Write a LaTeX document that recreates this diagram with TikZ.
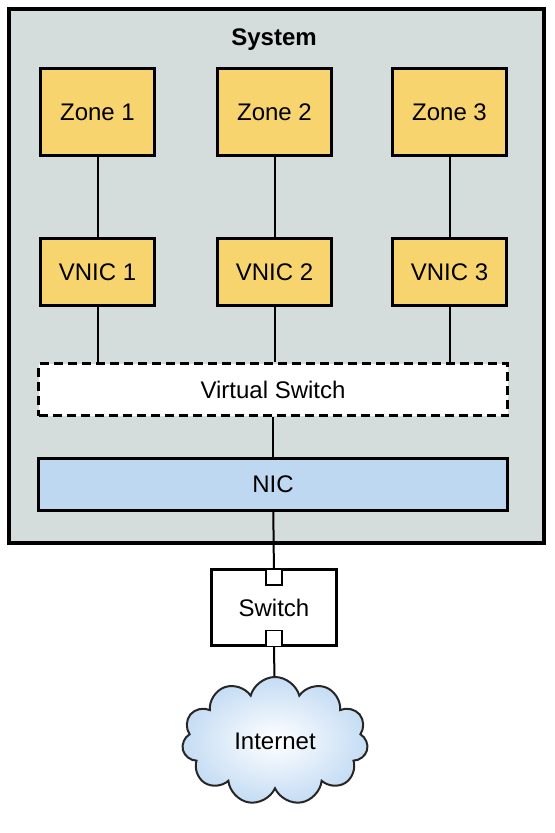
\documentclass[tikz,border=0pt]{standalone}
\usepackage{fontspec}
\setmainfont{Liberation Sans}
\usetikzlibrary{positioning,shapes.symbols}
\definecolor{sysgray}{RGB}{212,220,220}
\definecolor{zoneyellow}{RGB}{247,212,110}
\definecolor{nicblue}{RGB}{190,216,242}
\definecolor{cloudblue}{RGB}{196,220,244}

\begin{document}
\begin{tikzpicture}[
		x=0.5pt,y=-0.5pt,
		every node/.append style={
			font=\fontsize{12}{14}\selectfont,
			inner sep=0pt,
		},
		box/.style={draw=black,line width=1.5pt,minimum width=57pt},
		zonebox/.style={box,fill=zoneyellow,minimum height=43.5pt},
		vnicbox/.style={box,fill=zoneyellow,minimum height=33.5pt},
		widebox/.style={box,minimum width=234.5pt,minimum height=26pt},
		port/.style={draw=black,line width=0.8pt,fill=white,minimum size=8pt},
		wire/.style={line width=1pt},
	]
	\useasboundingbox (0,0) rectangle (554,833);
	% the system frame
	\node[draw=black,line width=2.4pt,fill=sysgray,minimum width=267.5pt,minimum height=267pt] (system) at (276.5,276) {};
	\node[font=\bfseries\fontsize{12}{14}\selectfont] (systitle) at (274,40) {System};
	% zones and their vnics
	\node[zonebox] (zone1) at (97.5,112.5) {Zone 1};
	\node[zonebox] (zone2) [right=30pt of zone1] {Zone 2};
	\node[zonebox] (zone3) [right=29pt of zone2] {Zone 3};
	\node[vnicbox] (vnic1) [below=40pt of zone1] {VNIC 1};
	\node[vnicbox] (vnic2) [below=40pt of zone2] {VNIC 2};
	\node[vnicbox] (vnic3) [below=40pt of zone3] {VNIC 3};
	% switching layer
	\node[widebox,fill=white,dash pattern=on 4.5pt off 2.5pt] (vswitch) at (273,389.5) {Virtual Switch};
	\node[widebox,fill=nicblue] (nic) [below=20pt of vswitch] {NIC};
	% outside the system
	\node[draw=black,line width=1.6pt,fill=white,minimum width=62.5pt,minimum height=38pt] (switch) at (274,607.5) {Switch};
	\node[port,anchor=north] (porttop) at (switch.north) {};
	\node[port,anchor=south] (portbot) at (switch.south) {};
	\node[cloud,cloud puffs=11,aspect=1.45,draw=black!85,line width=1pt,inner color=white,outer color=cloudblue,minimum width=93pt,minimum height=64pt] (internet) at (275,741) {Internet};
	% draw the connection lines
	\foreach \i in {1,2,3}{
		\draw[wire] (zone\i) -- (vnic\i);
		\draw[wire] (vnic\i) -- (vnic\i |- vswitch.north);
	}
	\draw[wire] (vswitch) -- (nic);
	\draw[wire] (nic) -- (porttop);
	\draw[wire] (portbot) -- (internet);
\end{tikzpicture}
\end{document}
